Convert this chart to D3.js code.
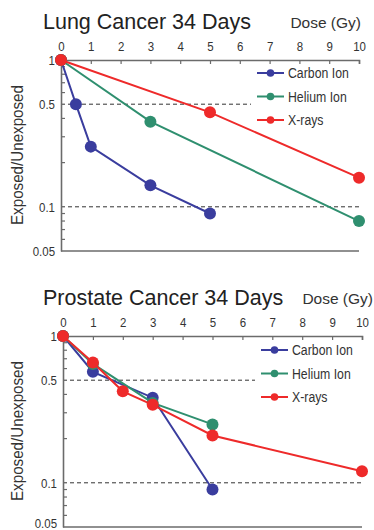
<!DOCTYPE html>
<html><head><meta charset="utf-8">
<script src="https://cdn.jsdelivr.net/npm/d3@7"></script>
<style>
body{margin:0;background:#fff;}
svg{display:block;}
</style></head>
<body>
<svg id="c" width="374" height="530"></svg>
<script>
const xTicks = [0,1,2,3,4,5,6,7,8,9,10];
const yLabelTicks = [1,0.5,0.1,0.05];
const yMinorTicks = [0.9,0.8,0.7,0.6,0.4,0.3,0.2,0.09,0.08,0.07,0.06];
const seriesNames = ["Carbon Ion","Helium Ion","X-rays"];
const seriesColors = ["#3a3d9e","#2f8f6f","#ee2a2a"];

const lungCarbon = [[0,1],[0.5,0.5],[1,0.257],[3,0.14],[5,0.09]];
const lungHelium = [[0,1],[3,0.38],[10,0.08]];
const lungXray = [[0,1],[5,0.44],[10,0.158]];

const prostCarbon = [[0,1],[1,0.57],[3,0.38],[5,0.09]];
const prostHelium = [[0,1],[1,0.645],[3,0.35],[5,0.25]];
const prostXray = [[0,1],[1,0.66],[2,0.42],[3,0.34],[5,0.21],[10,0.12]];

const panels = [
  {title:"Lung Cancer 34 Days", series:[lungCarbon,lungHelium,lungXray], top:60, left:61, right:359, titleX:43, doseX:361, legY:73, legX:257, bottomLabelShift:0},
  {title:"Prostate Cancer 34 Days", series:[prostCarbon,prostHelium,prostXray], top:336, left:63, right:362, titleX:43, doseX:373, legY:350, legX:261, bottomLabelShift:-4}
];

const svg = d3.select("#c");
const axisColor = "#6b6b6b";
const font = "'Liberation Sans',Arial,sans-serif";

function condensed(g, x, y, txt, size, sx, anchor) {
  return g.append("text").attr("transform",`translate(${x},${y}) scale(${sx},1)`)
    .attr("text-anchor",anchor||"start").attr("font-family",font).attr("font-size",size)
    .attr("fill","#333").text(txt);
}

panels.forEach(p => {
  const x = d3.scaleLinear().domain([0,10]).range([p.left,p.right]);
  const y = d3.scaleLog().domain([0.05,1]).range([p.top+191,p.top]);
  const g = svg.append("g");

  // title
  g.append("text").attr("x",p.titleX).attr("y",p.top-31)
    .attr("font-family",font).attr("font-size",21.5).attr("fill","#222").text(p.title);
  g.append("text").attr("x",p.doseX).attr("y",p.top-32).attr("text-anchor","end")
    .attr("font-family",font).attr("font-size",15.5).attr("fill","#333").text("Dose (Gy)");

  // dashed reference lines
  g.append("line").attr("x1",x(0)).attr("x2",p.legX-6).attr("y1",y(0.5)).attr("y2",y(0.5))
    .attr("stroke","#333").attr("stroke-width",1).attr("stroke-dasharray","4,3");
  g.append("line").attr("x1",x(0)).attr("x2",x(10)).attr("y1",y(0.1)).attr("y2",y(0.1))
    .attr("stroke","#333").attr("stroke-width",1).attr("stroke-dasharray","4,3");

  // top x axis
  const xa = g.append("g").attr("transform",`translate(0,${p.top})`)
    .call(d3.axisTop(x).tickValues(xTicks).tickSize(-4).tickPadding(9).tickFormat(d3.format("d")));
  xa.select(".domain").attr("stroke",axisColor).attr("stroke-width",1.6);
  xa.selectAll(".tick line").attr("stroke",axisColor).attr("stroke-width",1.2);
  xa.selectAll(".tick text").attr("font-family",font).attr("font-size",13.5).attr("fill","#333")
    .attr("transform","scale(0.85,1)").attr("x",function(){return 0;});
  // scale x positions back for condensed tick text
  xa.selectAll(".tick text").attr("transform","scale(0.85,1)");

  // bottom frame line
  g.append("line").attr("x1",x(0)).attr("x2",x(10)).attr("y1",y(0.05)).attr("y2",y(0.05))
    .attr("stroke",axisColor).attr("stroke-width",1.6);

  // y axis
  const ya = g.append("g").attr("transform",`translate(${p.left},0)`)
    .call(d3.axisLeft(y).tickValues(yLabelTicks).tickSize(0).tickPadding(6).tickFormat(d=>String(d)));
  ya.select(".domain").attr("stroke",axisColor).attr("stroke-width",1.6);
  ya.selectAll(".tick text").attr("font-family",font).attr("font-size",13.5).attr("fill","#333")
    .attr("transform","scale(0.85,1)").attr("x",-6/0.85)
    .attr("dy",d => (d===0.05 ? (0.32 + p.bottomLabelShift/13.5) + "em" : "0.32em"));
  g.selectAll(".minor").data(yMinorTicks).enter().append("line")
    .attr("x1",p.left).attr("x2",p.left+4).attr("y1",d=>y(d)).attr("y2",d=>y(d))
    .attr("stroke",axisColor).attr("stroke-width",1.2);

  // y label
  g.append("text").attr("transform",`translate(23,${p.top+95}) rotate(-90) scale(0.92,1)`)
    .attr("text-anchor","middle").attr("font-family",font).attr("font-size",16.5).attr("fill","#333")
    .text("Exposed/Unexposed");

  const line = d3.line().x(d=>x(d[0])).y(d=>y(d[1]));
  p.series.forEach((s,i) => {
    g.append("path").datum(s).attr("d",line).attr("fill","none")
      .attr("stroke",seriesColors[i]).attr("stroke-width",2);
    g.selectAll(".pt"+i).data(s).enter().append("circle")
      .attr("cx",d=>x(d[0])).attr("cy",d=>y(d[1])).attr("r",6).attr("fill",seriesColors[i]);
  });

  // legend
  seriesNames.forEach((n,i) => {
    const ly = p.legY + i*23.5;
    g.append("line").attr("x1",p.legX).attr("x2",p.legX+27).attr("y1",ly).attr("y2",ly)
      .attr("stroke",seriesColors[i]).attr("stroke-width",2);
    g.append("circle").attr("cx",p.legX+13.5).attr("cy",ly).attr("r",3.8).attr("fill",seriesColors[i]);
    condensed(g, p.legX+31, ly+5, n, 15, 0.82);
  });
});
</script>
</body></html>
